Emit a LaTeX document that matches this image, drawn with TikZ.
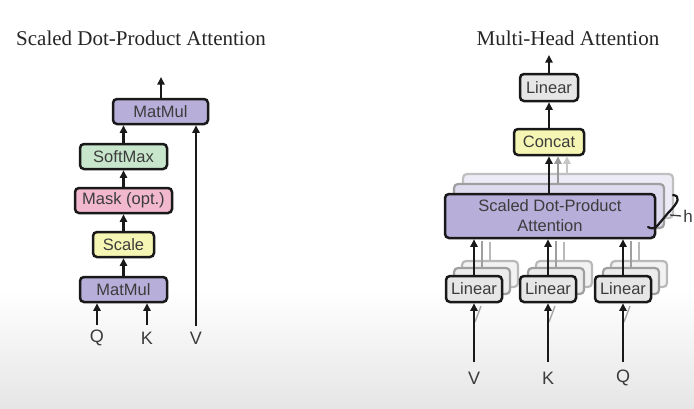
\documentclass[tikz,border=0pt]{standalone}
\usepackage{fontspec}
\setmainfont{Liberation Sans}
\newfontfamily\titlefont{Liberation Serif}
\usetikzlibrary{arrows.meta}
\definecolor{mmpurple}{RGB}{183,174,217}
\definecolor{smgreen}{RGB}{200,230,204}
\definecolor{mkpink}{RGB}{242,184,206}
\definecolor{scyellow}{RGB}{246,246,180}
\definecolor{lingray}{RGB}{230,230,230}
\definecolor{boxline}{RGB}{25,25,25}
\definecolor{textgray}{RGB}{60,60,60}
\tikzset{
  box/.style={draw=boxline, line width=2.5pt, rounded corners=4pt, inner sep=0pt,
    font=\fontsize{16.5}{19}\selectfont, text=textgray},
  ghost/.style={draw=gray!55, line width=2.2pt, rounded corners=4pt, inner sep=0pt},
  arr/.style={line width=2.2pt, draw=boxline, -{Triangle[length=7.5pt,width=7pt]}},
  garr/.style={line width=2.2pt, -{Triangle[length=7.5pt,width=7pt]}},
  inlabel/.style={font=\fontsize{18}{21}\selectfont, text=textgray},
  title/.style={font=\titlefont\fontsize{21}{24}\selectfont, text=black!85}
}
\begin{document}
\begin{tikzpicture}[x=1pt,y=-1pt]
\useasboundingbox (0,0) rectangle (694,408);
\fill[white] (0,0) rectangle (694,290);
\shade[top color=white, bottom color=black!10] (0,289.5) rectangle (694,408);

% ---------- Left: Scaled Dot-Product Attention ----------
\node[title] (ltitle) at (141,38) {Scaled Dot-Product Attention};
\node[box, fill=mmpurple, minimum width=95pt, minimum height=25pt] (mmtop) at (160.5,111.5) {MatMul};
\node[box, fill=smgreen, minimum width=87pt, minimum height=25pt] (soft) at (123.5,156.5) {SoftMax};
\node[box, fill=mkpink, minimum width=97pt, minimum height=25pt] (mask) at (123.5,200.5) {Mask (opt.)};
\node[box, fill=scyellow, minimum width=61pt, minimum height=25pt] (scale) at (123.5,244.5) {Scale};
\node[box, fill=mmpurple, minimum width=87pt, minimum height=25pt] (mmbot) at (123.5,289.5) {MatMul};
\node[inlabel] (lq) at (97,338) {Q};
\node[inlabel] (lk) at (147,338) {K};
\node[inlabel] (lv) at (196,338) {V};
\coordinate (lout) at (161,77);
\coordinate (lqs) at (97,325);
\coordinate (lks) at (147,325);
\coordinate (lvs) at (196,326);
\draw[arr] (mmtop.north -| lout) -- (lout);
\draw[arr] (soft.north) -- (soft.north |- mmtop.south);
\draw[arr] (mask.north) -- (soft.south);
\draw[arr] (scale.north) -- (mask.south);
\draw[arr] (mmbot.north) -- (scale.south);
\draw[arr] (lqs) -- (lqs |- mmbot.south);
\draw[arr] (lks) -- (lks |- mmbot.south);
\draw[arr] (lvs) -- (lvs |- mmtop.south);

% ---------- Right: Multi-Head Attention ----------
\node[title] (rtitle) at (568,38) {Multi-Head Attention};

% back layers of scaled dot-product attention
\node[ghost, fill=mmpurple!25, draw=gray!50, minimum width=210pt, minimum height=44pt] (sd2) at (568,196) {};
\node[ghost, fill=mmpurple!45, draw=gray!75, minimum width=210pt, minimum height=44pt] (sd1) at (559,206) {};

% gray arrows from back heads to concat
\coordinate (ca1) at (558,183);
\coordinate (ca2) at (567,174);

% linear stacks
\foreach \x/\n in {474/a,548/b,623/c}{
  \node[ghost, fill=lingray!50, draw=gray!55, minimum width=56pt, minimum height=26pt] (g2\n) at (\x+16,274) {};
  \node[ghost, fill=lingray!75, draw=gray!75, minimum width=56pt, minimum height=26pt] (g1\n) at (\x+8,281) {};
  \draw[line width=2pt, gray!55] (g2\n.north) -- ++(0,-18);
  \draw[line width=2pt, gray!75] (g1\n.north) -- ++(0,-26);
  \draw[line width=1.4pt, gray!70] (\x+1,322) -- (\x+7,306);
}

\node[box, fill=mmpurple, minimum width=210pt, minimum height=44pt, align=center,
  font=\fontsize{16.5}{20}\selectfont] (sdpa) at (550,216) {Scaled Dot-Product\\Attention};

\node[box, fill=scyellow, minimum width=70pt, minimum height=26pt] (concat) at (549,142) {Concat};
\node[box, fill=lingray, minimum width=58pt, minimum height=27pt] (ltop) at (549,87.5) {Linear};

\draw[garr, draw=gray!80, fill=gray!80] (ca1) -- (ca1 |- concat.south);
\draw[garr, draw=gray!45, fill=gray!45] (ca2) -- (ca2 |- concat.south);
\draw[arr] (sdpa.north -| concat.south) -- (concat.south);
\draw[arr] (concat.north) -- (ltop.south);
\coordinate (rout) at (549,55);
\draw[arr] (ltop.north) -- (rout);

\node[box, fill=lingray, minimum width=56pt, minimum height=26pt] (lin1) at (474,289) {Linear};
\node[box, fill=lingray, minimum width=56pt, minimum height=26pt] (lin2) at (548,289) {Linear};
\node[box, fill=lingray, minimum width=56pt, minimum height=26pt] (lin3) at (623,289) {Linear};

\draw[arr] (lin1.north) -- (lin1.north |- sdpa.south);
\draw[arr] (lin2.north) -- (lin2.north |- sdpa.south);
\draw[arr] (lin3.north) -- (lin3.north |- sdpa.south);

\node[inlabel] (rv) at (474,378) {V};
\node[inlabel] (rk) at (548,378) {K};
\node[inlabel] (rq) at (623,378) {Q};
\coordinate (rvs) at (474,362);
\coordinate (rks) at (548,362);
\coordinate (rqs) at (623,362);
\draw[arr] (rvs) -- (lin1.south);
\draw[arr] (rks) -- (lin2.south);
\draw[arr] (rqs) -- (lin3.south);

% brace and h
\draw[line width=2.2pt, boxline, line cap=round]
  (673,195) .. controls (680,196) and (680,201) .. (668,213)
  -- (658,225) .. controls (655,229) and (651,229) .. (648,227);
\coordinate (bm) at (670,215);
\node[font=\fontsize{17}{20}\selectfont, text=textgray, anchor=east, inner sep=0pt] (hh) at (693,216) {h};
\draw[line width=1.3pt, textgray] (bm) -- ([xshift=-2pt]hh.west);
\end{tikzpicture}
\end{document}
